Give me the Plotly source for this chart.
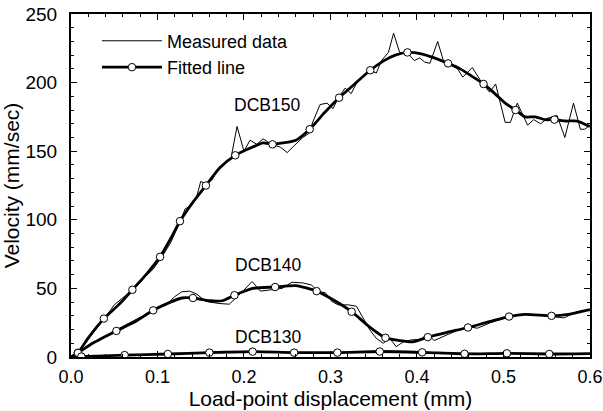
import plotly.graph_objects as go

# ---------------- data ----------------
dcb150_meas_x = [0.000, 0.010, 0.025, 0.040, 0.050, 0.060, 0.075, 0.085, 0.095, 0.105,
                 0.115, 0.125, 0.132, 0.138, 0.145, 0.150, 0.156, 0.163, 0.170, 0.178,
                 0.185, 0.192, 0.200, 0.207, 0.215, 0.222, 0.232, 0.242, 0.250, 0.258,
                 0.268, 0.275, 0.280, 0.288, 0.296, 0.303, 0.309, 0.317, 0.324, 0.332,
                 0.340, 0.346, 0.353, 0.359, 0.367, 0.373, 0.380, 0.390, 0.397, 0.403,
                 0.409, 0.415, 0.424, 0.431, 0.439, 0.447, 0.453, 0.464, 0.474, 0.484,
                 0.491, 0.502, 0.508, 0.516, 0.528, 0.535, 0.543, 0.551, 0.562, 0.571,
                 0.581, 0.589, 0.594, 0.600]
dcb150_meas_y = [0, 5, 17, 29, 38, 43, 51, 58, 64, 73,
                 83, 97, 108, 110, 116, 128, 126, 129, 137, 141,
                 145, 168, 150, 158, 155, 159, 155, 153, 149, 154,
                 160, 163, 172, 184, 185, 181, 189, 196, 192, 202,
                 205, 209, 207, 216, 222, 236, 222, 221, 216, 218,
                 215, 214, 230, 215, 213, 210, 204, 211, 201, 193,
                 199, 171, 171, 185, 169, 173, 170, 174, 176, 160,
                 185, 166, 166, 169]

dcb150_fit_x = [0.000, 0.008, 0.020, 0.038, 0.055, 0.071, 0.088, 0.103, 0.115, 0.126,
                0.140, 0.156, 0.172, 0.190, 0.210, 0.222, 0.233, 0.245, 0.260, 0.276,
                0.293, 0.310, 0.328, 0.346, 0.362, 0.375, 0.389, 0.405, 0.420, 0.436,
                0.450, 0.465, 0.477, 0.490, 0.502, 0.514, 0.525, 0.537, 0.548, 0.559,
                0.572, 0.585, 0.600]
dcb150_fit_y = [0, 3, 14, 28, 38, 49, 61, 73, 86, 99,
                112, 125, 138, 147, 153, 156, 155, 156, 158, 166,
                178, 189, 199, 209, 216, 220, 222, 221, 218, 214,
                210, 204, 199, 192, 185, 180, 175, 175, 173, 173,
                172, 172, 168]
dcb150_mark_x = [0.008, 0.038, 0.071, 0.103, 0.126, 0.156, 0.190, 0.233, 0.276, 0.310,
                 0.346, 0.389, 0.436, 0.477, 0.514, 0.559]
dcb150_mark_y = [3, 28, 49, 73, 99, 125, 147, 155, 166, 189,
                 209, 222, 214, 199, 180, 173]

dcb140_meas_x = [0.000, 0.010, 0.025, 0.050, 0.075, 0.095, 0.110, 0.120, 0.128, 0.137,
                 0.145, 0.156, 0.171, 0.183, 0.194, 0.2095, 0.219, 0.229, 0.244, 0.2555,
                 0.268, 0.278, 0.286, 0.294, 0.3015, 0.309, 0.3207, 0.330, 0.338, 0.3456,
                 0.353, 0.361, 0.3686, 0.376, 0.384, 0.393, 0.405, 0.412, 0.420, 0.430,
                 0.445, 0.460, 0.470, 0.485, 0.500, 0.510, 0.525, 0.545, 0.560, 0.570,
                 0.585, 0.600]
dcb140_meas_y = [0, 4, 10, 19, 27, 34, 38, 44, 47.5, 48,
                 46, 40.5, 39, 38.5, 45, 55, 48, 49, 50, 54.5,
                 54, 52.5, 47.5, 47, 40.5, 38, 38, 37, 28, 19.7,
                 13.6, 10, 13.6, 7.5, 11, 12.4, 13, 17, 12, 15,
                 19, 22, 21, 25, 28, 30, 31.5, 30, 29, 28.5,
                 33, 34.5]

dcb140_fit_x = [0.000, 0.008, 0.025, 0.0525, 0.075, 0.095, 0.115, 0.128, 0.141, 0.160,
                0.175, 0.189, 0.210, 0.236, 0.260, 0.284, 0.305, 0.3245, 0.345, 0.3636,
                0.380, 0.395, 0.4126, 0.435, 0.459, 0.485, 0.5065, 0.525, 0.5556, 0.575,
                0.600]
dcb140_fit_y = [0, 3, 10, 19, 26, 34, 40, 43, 43, 41,
                41, 45, 50, 51, 52, 48, 41, 33, 22, 14,
                12, 11, 14.5, 18, 21.5, 26, 29.5, 31, 30, 31,
                34.5]
dcb140_mark_x = [0.008, 0.0525, 0.095, 0.141, 0.189, 0.236, 0.284, 0.3245, 0.3636, 0.4126,
                 0.459, 0.5065, 0.5556]
dcb140_mark_y = [3, 19, 34, 43, 45, 51, 48, 33, 14, 14.5,
                 21.5, 29.5, 30]

dcb130_meas_x = [0.000, 0.020, 0.040, 0.060, 0.080, 0.100, 0.120, 0.140, 0.160, 0.180,
                 0.200, 0.220, 0.240, 0.260, 0.280, 0.300, 0.320, 0.340, 0.360, 0.380,
                 0.400, 0.420, 0.440, 0.460, 0.480, 0.500, 0.520, 0.540, 0.560, 0.580,
                 0.600]
dcb130_meas_y = [0, 0.5, 1.0, 1.5, 1.8, 2.0, 2.4, 2.6, 3.0, 3.2,
                 3.6, 3.8, 3.4, 3.2, 3.0, 3.2, 3.4, 3.6, 4.0, 3.8,
                 3.6, 3.2, 2.8, 2.4, 2.4, 2.6, 2.6, 2.3, 2.2, 2.3,
                 2.5]
dcb130_fit_x = [0.000, 0.012, 0.062, 0.112, 0.160, 0.210, 0.258, 0.308, 0.357, 0.406,
                0.455, 0.504, 0.553, 0.600]
dcb130_fit_y = [0, 0.3, 1.4, 2.2, 3.2, 3.9, 3.2, 3.2, 4.0, 3.4,
                2.3, 2.7, 2.2, 2.5]
dcb130_mark_x = dcb130_fit_x[1:-1]
dcb130_mark_y = dcb130_fit_y[1:-1]

labels = ["DCB150", "DCB140", "DCB130"]
label_x = [0.2265, 0.2276, 0.2276]
label_y = [184, 66.7, 14.6]

x_ticks = [0.0, 0.1, 0.2, 0.3, 0.4, 0.5, 0.6]
x_tick_text = ["0.0", "0.1", "0.2", "0.3", "0.4", "0.5", "0.6"]
y_ticks = [0, 50, 100, 150, 200, 250]

# ---------------- figure ----------------
FONT = "Liberation Sans, Arial, sans-serif"
fig = go.Figure()

meas = [(dcb150_meas_x, dcb150_meas_y), (dcb140_meas_x, dcb140_meas_y),
        (dcb130_meas_x, dcb130_meas_y)]
fits = [(dcb150_fit_x, dcb150_fit_y), (dcb140_fit_x, dcb140_fit_y),
        (dcb130_fit_x, dcb130_fit_y)]
marks = [(dcb150_mark_x, dcb150_mark_y), (dcb140_mark_x, dcb140_mark_y),
         (dcb130_mark_x, dcb130_mark_y)]

for i, (mx, my) in enumerate(meas):
    fig.add_trace(go.Scatter(x=mx, y=my, mode="lines", name="Measured data",
                             line=dict(color="black", width=1),
                             showlegend=(i == 0), legendgroup="meas"))
for i, (fx, fy) in enumerate(fits):
    fig.add_trace(go.Scatter(x=fx, y=fy, mode="lines", name="Fitted line",
                             line=dict(color="black", width=2.8, shape="spline", smoothing=0.6),
                             showlegend=False, legendgroup="fit"))
for i, (kx, ky) in enumerate(marks):
    fig.add_trace(go.Scatter(x=kx, y=ky, mode="markers", name="Fitted line",
                             marker=dict(symbol="circle", size=7.5, color="white",
                                         line=dict(color="black", width=1)),
                             showlegend=False, legendgroup="fit"))
fig.add_trace(go.Scatter(x=[None], y=[None], mode="lines+markers", name="Fitted line",
                         line=dict(color="black", width=2.8),
                         marker=dict(symbol="circle", size=7.5, color="white",
                                     line=dict(color="black", width=1)),
                         legendgroup="fit"))

for t, lx, ly in zip(labels, label_x, label_y):
    fig.add_annotation(x=lx, y=ly, text=t, showarrow=False,
                       font=dict(family=FONT, size=17.5, color="black"))

axis_common = dict(showline=True, linecolor="black", linewidth=2, mirror="allticks",
                   ticks="inside", ticklen=6, tickwidth=1.2, tickcolor="black",
                   showgrid=False, zeroline=False, automargin=False)

fig.update_xaxes(range=[0, 0.6001], tickmode="array", tickvals=x_ticks, ticktext=x_tick_text,
                 tickfont=dict(family=FONT, size=18, color="black"),
                 title=dict(text="Load-point displacement (mm)",
                            font=dict(family=FONT, size=21, color="black"), standoff=4),
                 minor=dict(dtick=0.02, tick0=0, ticks="inside", ticklen=3, tickcolor="black"),
                 ticklabelstandoff=2, ticklabeloverflow="allow",
                 **axis_common)
fig.update_yaxes(range=[0, 250], tickvals=y_ticks,
                 tickfont=dict(family=FONT, size=19, color="black"),
                 title=dict(text="Velocity (mm/sec)",
                            font=dict(family=FONT, size=21, color="black"), standoff=3),
                 minor=dict(dtick=10, ticks="inside", ticklen=3, tickcolor="black"),
                 ticklabelstandoff=8,
                 **axis_common)

fig.update_layout(
    width=603, height=411,
    margin=dict(l=71, r=13, t=14, b=54, autoexpand=False),
    paper_bgcolor="white", plot_bgcolor="white",
    showlegend=True,
    legend=dict(x=0.05, y=0.975, xanchor="left", yanchor="top",
                bgcolor="rgba(0,0,0,0)", borderwidth=0,
                font=dict(family=FONT, size=18, color="black"),
                itemwidth=60, tracegroupgap=0),
)

fig.write_html("out.html")
